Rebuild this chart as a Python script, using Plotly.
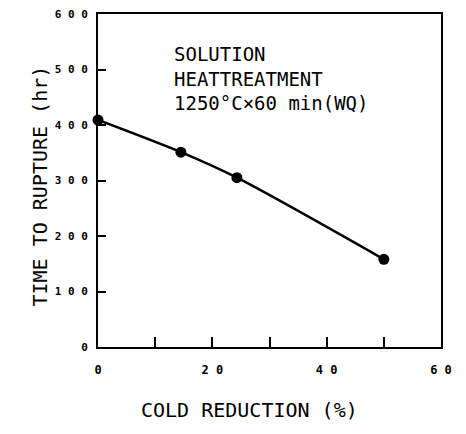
import plotly.graph_objects as go

reduction = [0, 14.5, 24.3, 50]
rupture_hr = [409, 351, 305, 158]
x_ticks = [0, 10, 20, 30, 40, 50, 60]
x_tick_labels = ["0", "", "2 0", "", "4 0", "", "6 0"]
y_ticks = [0, 100, 200, 300, 400, 500, 600]
y_tick_labels = ["0", "1 0 0", "2 0 0", "3 0 0", "4 0 0", "5 0 0", "6 0 0"]

fig = go.Figure()
fig.add_trace(go.Scatter(
    x=reduction, y=rupture_hr, mode="lines+markers",
    line=dict(color="black", width=2.5, shape="spline", smoothing=0.8),
    marker=dict(color="black", size=11),
    showlegend=False, cliponaxis=False,
))

fig.update_xaxes(
    range=[0, 60], tickvals=x_ticks, ticktext=[f"<b>{t}</b>" if t else "" for t in x_tick_labels],
    ticks="inside", ticklen=10, tickwidth=2, tickcolor="black", ticklabelstandoff=11,
    ticklabeloverflow="allow",
    showline=True, linewidth=2, linecolor="black", mirror=True, automargin=False,
    showgrid=False, zeroline=False, tickfont=dict(family="DejaVu Sans Mono", size=12, color="black"),
)
fig.update_yaxes(
    range=[0, 600], tickvals=y_ticks, ticktext=[f"<b>{t}</b>" for t in y_tick_labels],
    ticks="inside", ticklen=8, tickwidth=2, tickcolor="black", ticklabelstandoff=6,
    ticklabeloverflow="allow",
    showline=True, linewidth=2, linecolor="black", mirror=True, automargin=False,
    showgrid=False, zeroline=False, tickfont=dict(family="DejaVu Sans Mono", size=11, color="black"),
)
titlefont = dict(family="DejaVu Sans Mono", size=20, color="black")
fig.add_annotation(
    x=0.443, y=-0.189, xref="paper", yref="paper", xanchor="center", yanchor="middle",
    text="COLD REDUCTION (%)", showarrow=False, font=titlefont,
)
fig.add_annotation(
    x=-0.168, y=0.483, xref="paper", yref="paper", xanchor="center", yanchor="middle",
    text="TIME TO RUPTURE (hr)", showarrow=False, textangle=-90, font=titlefont,
)
fig.add_annotation(
    x=12.9, y=552, xref="x", yref="y", xanchor="left", yanchor="top",
    text="SOLUTION<br>HEATTREATMENT<br>1250°C×60 min(WQ)", showarrow=False, align="left",
    font=dict(family="DejaVu Sans Mono", size=19, color="black"),
)
fig.update_layout(
    width=458, height=426, margin=dict(l=90, r=25, t=6, b=87, autoexpand=False),
    paper_bgcolor="white", plot_bgcolor="white",
)
fig.write_html("out.html")
